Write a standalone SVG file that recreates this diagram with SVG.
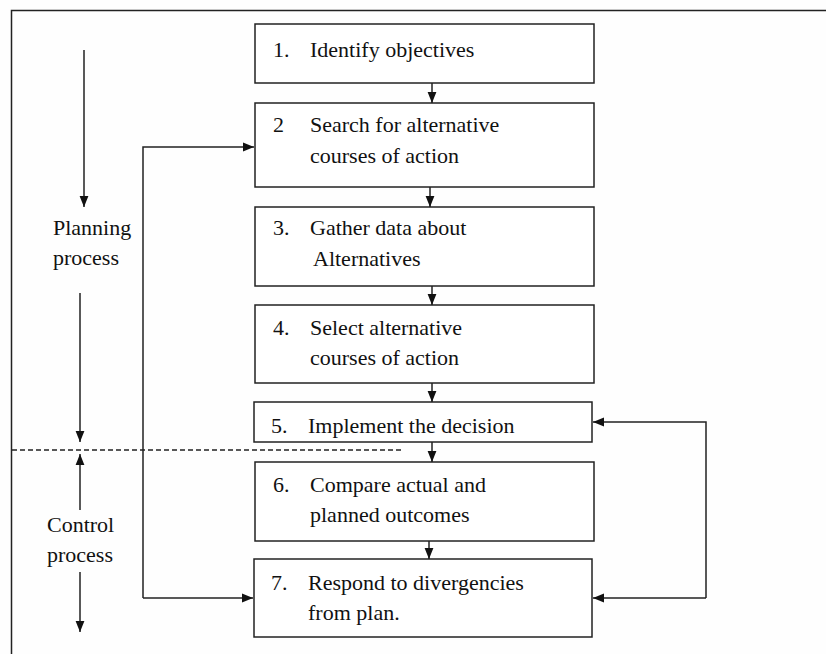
<svg xmlns="http://www.w3.org/2000/svg" width="826" height="654" viewBox="0 0 826 654">
<style>
.box{fill:#fff;stroke:#222;stroke-width:1.5}
.ln{fill:none;stroke:#222;stroke-width:1.5}
.t{font-family:"Liberation Serif","Times New Roman",serif;font-size:22px;fill:#111}
</style>
<defs>
<marker id="ah" viewBox="0 0 10 10" refX="10" refY="5" markerWidth="11" markerHeight="11" markerUnits="userSpaceOnUse" orient="auto">
<path d="M0,1 L10,5 L0,9 z" fill="#111"/>
</marker>
</defs>
<rect x="0" y="0" width="826" height="654" fill="#fefefe"/>
<path d="M11.5,654 V10.5 H826" fill="none" stroke="#222" stroke-width="1.5"/>

<g id="n1"><rect class="box" x="255" y="24" width="339" height="59"/>
<text class="t" x="273" y="57">1.</text><text class="t" x="310" y="57">Identify objectives</text></g>
<g id="n2"><rect class="box" x="255" y="103" width="339" height="84"/>
<text class="t" x="273" y="132">2</text><text class="t" x="310" y="132">Search for alternative</text><text class="t" x="310" y="163">courses of action</text></g>
<g id="n3"><rect class="box" x="255" y="207" width="339" height="79"/>
<text class="t" x="273" y="235">3.</text><text class="t" x="310" y="235">Gather data about</text><text class="t" x="313" y="266">Alternatives</text></g>
<g id="n4"><rect class="box" x="255" y="305" width="339" height="78"/>
<text class="t" x="273" y="335">4.</text><text class="t" x="310" y="335">Select alternative</text><text class="t" x="310" y="365">courses of action</text></g>
<g id="n5"><rect class="box" x="254" y="402" width="338" height="40"/>
<text class="t" x="271" y="433">5.</text><text class="t" x="308" y="433">Implement the decision</text></g>
<g id="n6"><rect class="box" x="255" y="462" width="339" height="79"/>
<text class="t" x="273" y="492">6.</text><text class="t" x="310" y="492">Compare actual and</text><text class="t" x="310" y="522">planned outcomes</text></g>
<g id="n7"><rect class="box" x="254" y="559" width="338" height="78"/>
<text class="t" x="271" y="590">7.</text><text class="t" x="308" y="590">Respond to divergencies</text><text class="t" x="308" y="620">from plan.</text></g>

<g id="labels">
<text class="t" x="53" y="235">Planning</text>
<text class="t" x="53" y="265">process</text>
<text class="t" x="47" y="532">Control</text>
<text class="t" x="47" y="562">process</text>
</g>

<g id="connectors">
<line class="ln" x1="432" y1="83" x2="432" y2="103" marker-end="url(#ah)"/>
<line class="ln" x1="430" y1="187" x2="430" y2="207" marker-end="url(#ah)"/>
<line class="ln" x1="432" y1="286" x2="432" y2="305" marker-end="url(#ah)"/>
<line class="ln" x1="432" y1="383" x2="432" y2="402" marker-end="url(#ah)"/>
<line class="ln" x1="432" y1="442" x2="432" y2="462" marker-end="url(#ah)"/>
<line class="ln" x1="429" y1="541" x2="429" y2="559" marker-end="url(#ah)"/>
<polyline class="ln" points="143,598 143,147 254,147" marker-end="url(#ah)"/>
<line class="ln" x1="143" y1="598" x2="253" y2="598" marker-end="url(#ah)"/>
<polyline class="ln" points="706,598 706,422 593,422" marker-end="url(#ah)"/>
<line class="ln" x1="706" y1="598" x2="593" y2="598" marker-end="url(#ah)"/>
<line class="ln" x1="84" y1="50" x2="84" y2="207" marker-end="url(#ah)"/>
<line class="ln" x1="80" y1="293" x2="80" y2="442" marker-end="url(#ah)"/>
<line class="ln" x1="80" y1="510" x2="80" y2="454" marker-end="url(#ah)"/>
<line class="ln" x1="80" y1="572" x2="80" y2="632" marker-end="url(#ah)"/>
<line x1="12" y1="450" x2="403" y2="450" stroke="#222" stroke-width="1.5" stroke-dasharray="5,3"/>
</g>
</svg>
